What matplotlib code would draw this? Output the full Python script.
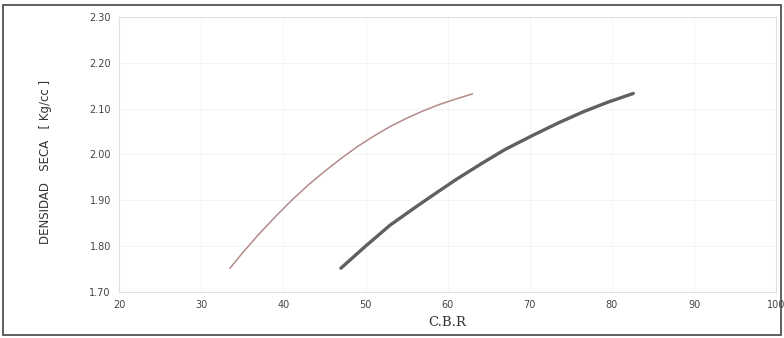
import matplotlib
matplotlib.use("Agg")
import matplotlib.pyplot as plt
from matplotlib.patches import Rectangle

# Curvas (C.B.R vs densidad seca)
cbr_1 = [33.5, 35, 37, 39, 41, 43, 45, 47, 49, 51, 53, 55, 57, 59, 61, 63]
dens_1 = [1.752, 1.785, 1.826, 1.864, 1.900, 1.933, 1.963, 1.991, 2.017,
          2.040, 2.061, 2.079, 2.095, 2.109, 2.121, 2.132]

cbr_2 = [47, 50, 53, 56, 58.1, 61, 64.2, 67, 70.4, 73.5, 76.5, 79.5, 82.6]
dens_2 = [1.752, 1.800, 1.846, 1.884, 1.910, 1.945, 1.981, 2.011, 2.042,
          2.069, 2.093, 2.114, 2.133]

x_ticks = [20, 30, 40, 50, 60, 70, 80, 90, 100]
y_ticks = [1.70, 1.80, 1.90, 2.00, 2.10, 2.20, 2.30]

fig = plt.figure(figsize=(7.84, 3.38), dpi=100)
ax = fig.add_axes([0.152, 0.136, 0.838, 0.814])

ax.plot(cbr_1, dens_1, color='#b58a8a', linewidth=1.1)
ax.plot(cbr_2, dens_2, color='#606060', linewidth=2.4, solid_capstyle='round')

ax.set_xlim(20, 100)
ax.set_ylim(1.70, 2.30)
ax.set_xticks(x_ticks)
ax.set_yticks(y_ticks)
ax.set_yticklabels([f'{v:.2f}' for v in y_ticks])
ax.tick_params(length=0, labelsize=7, colors='#444444', pad=6)
ax.grid(True, color='#f2f2f2', linewidth=0.6)
for s in ax.spines.values():
    s.set_color('#e0e0e0')
    s.set_linewidth(0.8)

ax.set_xlabel('C.B.R', family='serif', fontsize=9.5, color='#333333', labelpad=4)
fig.text(0.058, 0.52, 'DENSIDAD   SECA   [ Kg/cc ]', rotation=90,
         ha='center', va='center', fontsize=8.5, color='#333333')

# Marco exterior del escaneo
fig.patches.append(Rectangle((0.004, 0.01), 0.992, 0.975, transform=fig.transFigure,
                             fill=False, edgecolor='#444444', linewidth=1.2))

fig.savefig('out.png', dpi=100)
